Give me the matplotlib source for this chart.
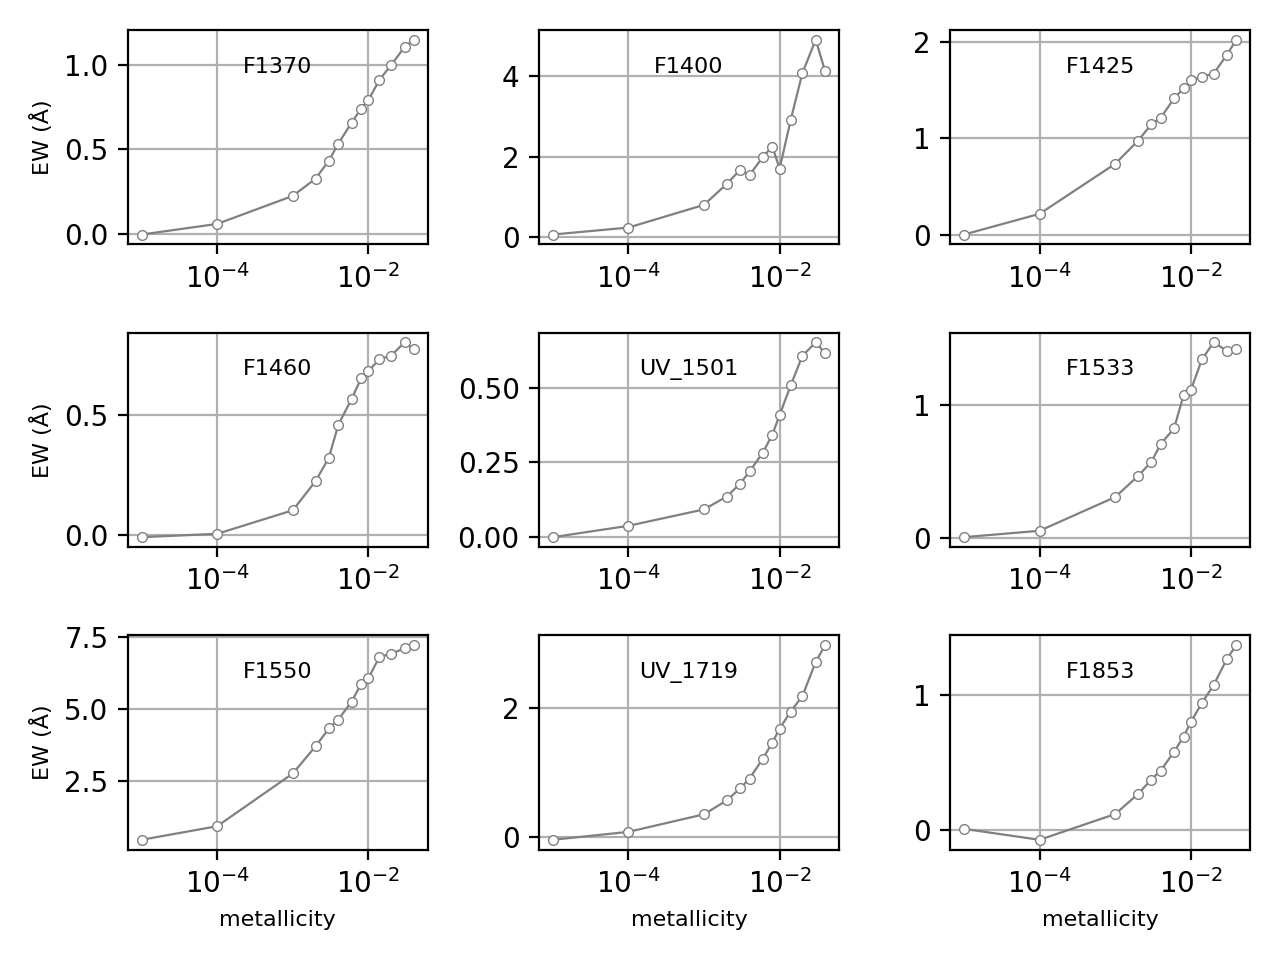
import numpy as np
import matplotlib.pyplot as plt

metallicity = [1e-5, 1e-4, 1e-3, 2e-3, 3e-3, 4e-3, 6e-3, 8e-3, 0.010, 0.014, 0.020, 0.030, 0.040]

names = ["F1370", "F1400", "F1425", "F1460", "UV_1501", "F1533", "F1550", "UV_1719", "F1853"]

ew_f1370 = [-0.006, 0.057, 0.223, 0.325, 0.432, 0.533, 0.657, 0.740, 0.791, 0.911, 0.998, 1.105, 1.148]
ew_f1400 = [0.058, 0.232, 0.797, 1.32, 1.668, 1.544, 1.99, 2.25, 1.70, 2.91, 4.08, 4.91, 4.12]
ew_f1425 = [0.003, 0.218, 0.737, 0.976, 1.145, 1.215, 1.415, 1.519, 1.602, 1.640, 1.671, 1.869, 2.024]
ew_f1460 = [-0.007, 0.007, 0.105, 0.226, 0.324, 0.461, 0.569, 0.654, 0.685, 0.734, 0.749, 0.804, 0.775]
ew_uv1501 = [0.0, 0.038, 0.093, 0.136, 0.179, 0.220, 0.283, 0.343, 0.409, 0.508, 0.607, 0.652, 0.615]
ew_f1533 = [0.007, 0.055, 0.308, 0.465, 0.572, 0.706, 0.823, 1.07, 1.11, 1.34, 1.468, 1.405, 1.415]
ew_f1550 = [0.461, 0.933, 2.765, 3.71, 4.33, 4.64, 5.265, 5.876, 6.08, 6.82, 6.92, 7.12, 7.23]
ew_uv1719 = [-0.036, 0.087, 0.359, 0.574, 0.759, 0.913, 1.22, 1.467, 1.687, 1.949, 2.19, 2.718, 2.98]
ew_f1853 = [0.010, -0.071, 0.120, 0.268, 0.376, 0.442, 0.582, 0.693, 0.803, 0.943, 1.076, 1.270, 1.373]

ews = [ew_f1370, ew_f1400, ew_f1425, ew_f1460, ew_uv1501, ew_f1533, ew_f1550, ew_uv1719, ew_f1853]

fig, axes = plt.subplots(3, 3, figsize=(6.4, 4.8), dpi=200)

for i, ax in enumerate(axes.flat):
    ax.plot(metallicity, ews[i], '-o', color='grey', lw=0.8, ms=3.5,
            mfc='white', mec='grey', mew=0.5)
    ax.set_xscale('log')
    ax.grid(True)
    ax.text(0.5, 0.8, names[i], transform=ax.transAxes, ha='center', fontsize=8)
    if i % 3 == 0:
        ax.set_ylabel("EW (Å)", fontsize=8)
    if i >= 6:
        ax.set_xlabel("metallicity", fontsize=8)

plt.tight_layout()
plt.savefig("out.png")
